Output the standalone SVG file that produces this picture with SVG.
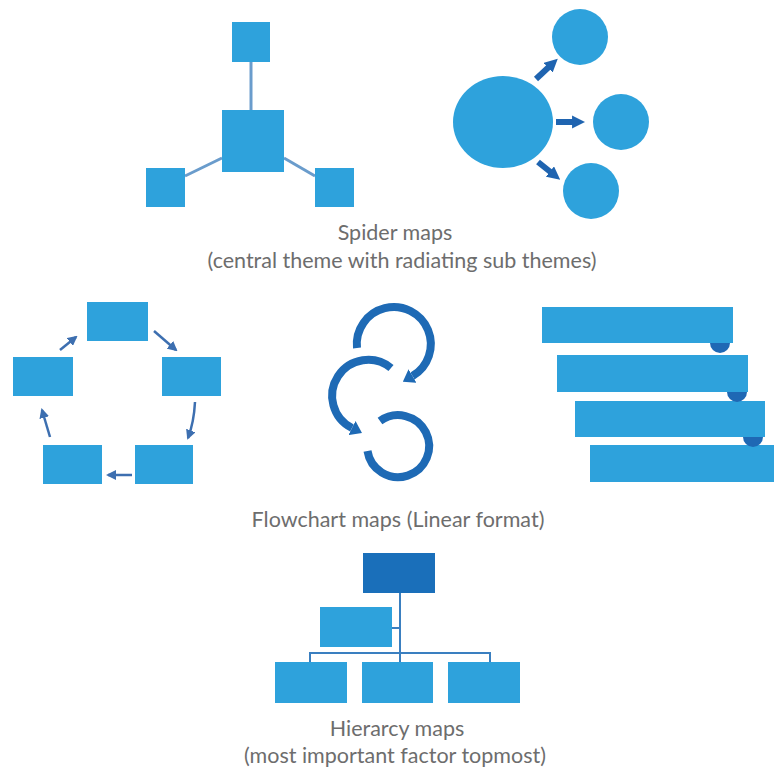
<svg xmlns="http://www.w3.org/2000/svg" width="774" height="770" viewBox="0 0 774 770">
<defs>
<style>
.b{fill:#2ea2dc}
.d{fill:#1f68b4}
.ln{stroke:#6a9ccc;stroke-width:3;fill:none}
.ar{stroke:#1f64b0;stroke-width:6;fill:none}
.fa{stroke:#3d6fb0;stroke-width:2.5;fill:none}
.cy{stroke:#1e6ab5;stroke-width:8;fill:none;stroke-linecap:butt}
.hl{stroke:#3a7fc0;stroke-width:2;fill:none}
.t{font-family:Lato,"Open Sans",sans-serif;font-size:21.5px;fill:#6d6d6d;text-anchor:middle}
</style>
<marker id="ah" viewBox="0 0 10 10" refX="3" refY="5" markerWidth="2.2" markerHeight="2.2" orient="auto"><path d="M0,0L10,5L0,10Z" fill="#1f64b0"/></marker>
<marker id="fh" viewBox="0 0 10 10" refX="8" refY="5" markerWidth="4" markerHeight="4" orient="auto"><path d="M0,0L10,5L0,10Z" fill="#3d6fb0"/></marker>
<marker id="ch" viewBox="0 0 10 14" refX="0" refY="7" markerWidth="1.4" markerHeight="2" orient="auto"><path d="M0,0L10,7L0,14Z" fill="#1e6ab5"/></marker>
</defs>
<g id="connectors">
<line class="ln" x1="251" y1="62" x2="251" y2="110"/>
<line class="ln" x1="185" y1="176" x2="222" y2="158"/>
<line class="ln" x1="284" y1="158" x2="315" y2="176"/>
<line class="ar" x1="536" y1="79" x2="551" y2="65" marker-end="url(#ah)"/>
<line class="ar" x1="556" y1="122" x2="576" y2="122" marker-end="url(#ah)"/>
<line class="ar" x1="538" y1="162" x2="553" y2="174" marker-end="url(#ah)"/>
<line class="fa" x1="154" y1="331" x2="176" y2="350" marker-end="url(#fh)"/>
<path class="fa" d="M195,402 Q194,422 188,438" marker-end="url(#fh)"/>
<line class="fa" x1="132" y1="475" x2="108" y2="475" marker-end="url(#fh)"/>
<line class="fa" x1="50" y1="437" x2="42" y2="410" marker-end="url(#fh)"/>
<line class="fa" x1="60" y1="350" x2="76" y2="337" marker-end="url(#fh)"/>
<path class="hl" d="M400,593 V653 M310,668 V653 H490 V668 M400,653 V662 M392,628 H400"/>
</g>
<g id="spider-squares">
<rect class="b" x="232" y="22" width="38" height="40"/>
<rect class="b" x="222" y="110" width="62" height="62"/>
<rect class="b" x="146" y="168" width="39" height="39"/>
<rect class="b" x="315" y="168" width="39" height="39"/>
</g>
<g id="spider-circles">
<ellipse class="b" cx="503" cy="122" rx="50" ry="46"/>
<circle class="b" cx="580" cy="37" r="28"/>
<circle class="b" cx="621" cy="122" r="28"/>
<circle class="b" cx="591" cy="191" r="28"/>
</g>
<g id="spider-label">
<text class="t" x="395" y="240">Spider maps</text>
<text class="t" x="402" y="268">(central theme with radiating sub themes)</text>
</g>
<g id="flow-cycle">
<rect class="b" x="87" y="302" width="61" height="39"/>
<rect class="b" x="162" y="357" width="59" height="39"/>
<rect class="b" x="13" y="357" width="60" height="39"/>
<rect class="b" x="43" y="445" width="59" height="39"/>
<rect class="b" x="135" y="445" width="58" height="39"/>
</g>
<g id="circular-arrows">
<path class="cy" d="M357,348 A37,37 0 1 1 412.5,376" marker-end="url(#ch)"/>
<path class="cy" d="M391,368 A36,36 0 1 0 352,428" marker-end="url(#ch)"/>
<path class="cy" d="M380,421 A31,31 0 1 1 367.5,451"/>
</g>
<g id="staircase">
<rect class="b" x="542" y="307" width="191" height="36"/>
<rect class="b" x="557" y="355" width="191" height="37"/>
<rect class="b" x="575" y="401" width="190" height="36"/>
<rect class="b" x="590" y="445" width="184" height="37"/>
<path class="d" d="M710,343 A10,10 0 0 0 730,343 Z"/>
<path class="d" d="M727,392 A10,10 0 0 0 747,392 Z"/>
<path class="d" d="M743,437 A10,10 0 0 0 763,437 Z"/>
</g>
<g id="flow-label">
<text class="t" x="398" y="527">Flowchart maps (Linear format)</text>
</g>
<g id="hierarchy">
<rect x="363" y="553" width="72" height="40" fill="#1a6fba"/>
<rect class="b" x="320" y="607" width="72" height="40"/>
<rect class="b" x="275" y="662" width="72" height="41"/>
<rect class="b" x="362" y="662" width="71" height="41"/>
<rect class="b" x="448" y="662" width="72" height="41"/>
</g>
<g id="hier-label">
<text class="t" x="397" y="736">Hierarcy maps</text>
<text class="t" x="395" y="763">(most important factor topmost)</text>
</g>
</svg>
